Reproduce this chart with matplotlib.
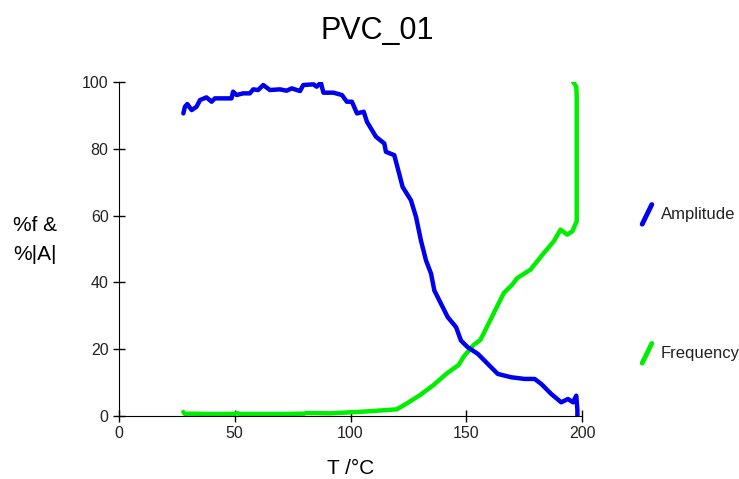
import matplotlib
matplotlib.use("Agg")
import matplotlib.pyplot as plt
from matplotlib.lines import Line2D

plt.rcParams['font.family'] = ['Liberation Sans', 'DejaVu Sans']

# amplitude (% of max) vs temperature
amp_T = [27.8, 28.5, 29.5, 31.4, 33.5, 35.0, 37.8, 40.0, 41.4, 48.6, 49.3, 50.8,
         53.6, 56.5, 58.0, 60.1, 62.3, 65.2, 69.5, 72.4, 74.6, 78.2, 79.6, 84.0,
         85.4, 87.2, 88.3, 92.7, 96.3, 98.4, 100.6, 102.8, 105.7, 107.1, 111.0,
         114.6, 115.3, 118.9, 121.0, 122.5, 126.1, 128.3, 130.4, 132.6, 134.8,
         136.2, 139.1, 142.0, 145.6, 147.7, 150.6, 155.0, 159.3, 163.6, 169.4,
         175.2, 179.5, 182.4, 186.7, 191.0, 193.9, 196.1, 197.5, 198.0, 198.0]
amp = [90.6, 92.6, 93.4, 91.6, 92.6, 94.6, 95.4, 94.1, 95.1, 95.1, 97.1, 96.1,
       96.6, 96.6, 97.8, 97.6, 99.1, 97.6, 97.8, 97.4, 98.1, 97.3, 99.1, 99.3,
       98.6, 99.8, 96.8, 96.8, 96.1, 94.1, 94.1, 90.6, 91.1, 88.1, 83.6,
       81.6, 79.1, 78.1, 72.6, 68.6, 64.6, 59.6, 52.6, 46.6, 42.6,
       37.6, 33.6, 29.6, 26.6, 22.6, 20.6, 18.6, 15.6, 12.6, 11.6,
       11.1, 11.1, 9.6, 6.6, 4.1, 5.1, 4.1, 6.1, 1.8, 0.0]

# frequency (% of max) vs temperature
freq_T = [27.8, 28.5, 30.0, 40.0, 50.0, 51.0, 52.0, 70.0, 80.0, 81.0, 91.0,
          105.5, 120.0, 124.4, 130.1, 135.9, 141.7, 146.7, 148.9, 153.2, 156.1,
          159.0, 163.3, 166.2, 169.8, 172.0, 177.7, 183.5, 187.8, 190.7, 193.6,
          195.8, 197.7, 197.7, 197.7, 197.5, 196.1]
freq = [1.2, 0.6, 0.7, 0.6, 0.6, 0.9, 0.6, 0.6, 0.7, 0.9, 0.8,
        1.3, 2.0, 3.8, 6.3, 9.3, 12.8, 15.3, 17.8, 21.3, 22.8,
        26.8, 32.8, 36.8, 39.3, 41.3, 43.8, 48.8, 52.3, 55.8, 54.3,
        55.3, 58.3, 84.7, 95.6, 98.6, 100.1]

blue = '#0000ee'
green = '#00ee00'

fig = plt.figure(figsize=(7.39, 4.79), dpi=100)
ax = fig.add_axes([0.161, 0.1315, 0.6266, 0.6973])

ax.plot(freq_T, freq, color=green, lw=3.2, solid_capstyle='round', solid_joinstyle='round')
ax.plot(amp_T, amp, color=blue, lw=3.2, solid_capstyle='round', solid_joinstyle='round')

ax.set_xlim(0, 200)
ax.set_ylim(0, 100)
ax.set_xticks([0, 50, 100, 150, 200])
ax.set_yticks([0, 20, 40, 60, 80, 100])
ax.spines['top'].set_visible(False)
ax.spines['right'].set_visible(False)
ax.tick_params(direction='inout', length=8, width=1, labelsize=11.5, labelcolor='#222222')

ax.set_xlabel('T /°C', fontsize=15, labelpad=13)
fig.text(0.048, 0.499, '%f &\n%|A|', fontsize=15, ha='center', va='center', linespacing=1.65)
fig.suptitle('PVC_01', fontsize=22, x=0.511, y=0.966)

# legend drawn as slanted strokes at the right
for y0, col, lab in [(0.553, blue, 'Amplitude'), (0.263, green, 'Frequency')]:
    fig.add_artist(Line2D([0.869, 0.882], [y0 - 0.021, y0 + 0.02], color=col, lw=3.5,
                          transform=fig.transFigure, solid_capstyle='round'))
    fig.text(0.894, y0, lab, fontsize=12, va='center', ha='left', color='#222222')

fig.savefig('out.png', dpi=100)
